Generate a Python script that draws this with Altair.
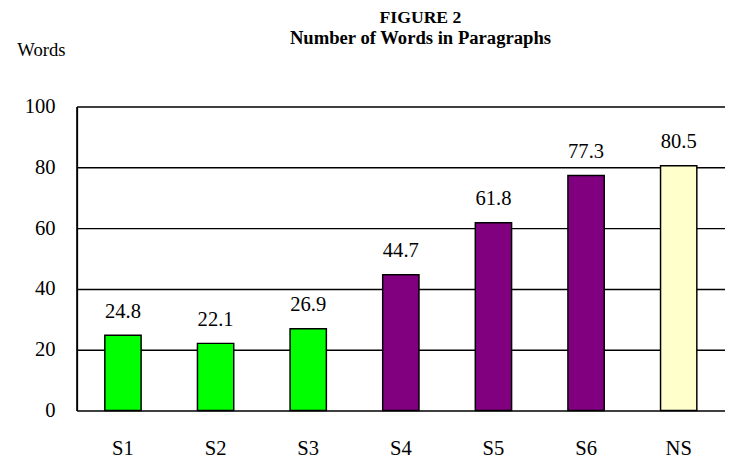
import altair as alt
import pandas as pd

categories = ["S1", "S2", "S3", "S4", "S5", "S6", "NS"]
values = [24.8, 22.1, 26.9, 44.7, 61.8, 77.3, 80.5]
groups = ["A", "A", "A", "B", "B", "B", "C"]
group_names = ["A", "B", "C"]
colors = ["#00FF00", "#800080", "#FFFFCC"]
y_ticks = [0, 20, 40, 60, 80, 100]

df = pd.DataFrame({"cat": categories, "val": values, "grp": groups})
FONT = "Liberation Serif"

x = alt.X(
    "cat:N",
    sort=categories,
    scale=alt.Scale(domain=categories, range=[0, 661], paddingInner=0, paddingOuter=0),
    axis=alt.Axis(title=None, labelAngle=0, domain=False, ticks=False, labelPadding=28,
                  labelFontSize=21, labelFont=FONT, labelColor="black"),
)
y = alt.Y(
    "val:Q",
    scale=alt.Scale(domain=[0, 100], nice=False),
    axis=alt.Axis(values=y_ticks, title="Words", titleAngle=0, titleX=-61, titleY=-58,
                  titleAlign="left", titleBaseline="middle", titleFont=FONT, titleFontSize=19,
                  titleFontWeight="normal", titleColor="black",
                  grid=True, gridColor="black", gridOpacity=1, gridWidth=1.5,
                  domainColor="black", domainWidth=2, ticks=False, labelPadding=22,
                  labelFontSize=21, labelFont=FONT, labelColor="black"),
)

bars = alt.Chart(df).mark_bar(size=37, stroke="black", strokeWidth=1.5).encode(
    x=x, y=y,
    color=alt.Color("grp:N", scale=alt.Scale(domain=group_names, range=colors), legend=None),
)
labels = alt.Chart(df).mark_text(baseline="alphabetic", dy=-18, fontSize=21, font=FONT, color="black").encode(
    x=x, y=y, text=alt.Text("val:Q", format=".1f")
)

chart = alt.layer(bars, labels).properties(
    width=645, height=310,
    title=alt.TitleParams(text="FIGURE 2", subtitle="Number of Words in Paragraphs",
                          font=FONT, fontSize=18, fontWeight="bold", color="black",
                          subtitleFont=FONT, subtitleFontSize=19, subtitleFontWeight="bold",
                          subtitleColor="black", subtitlePadding=2,
                          anchor="middle", dx=28, offset=-7),
    padding={"left": 9, "top": -3, "right": 0, "bottom": 0},
).configure_view(stroke=None)

chart.save("out.html", embed_options={"renderer": "svg", "actions": False})
